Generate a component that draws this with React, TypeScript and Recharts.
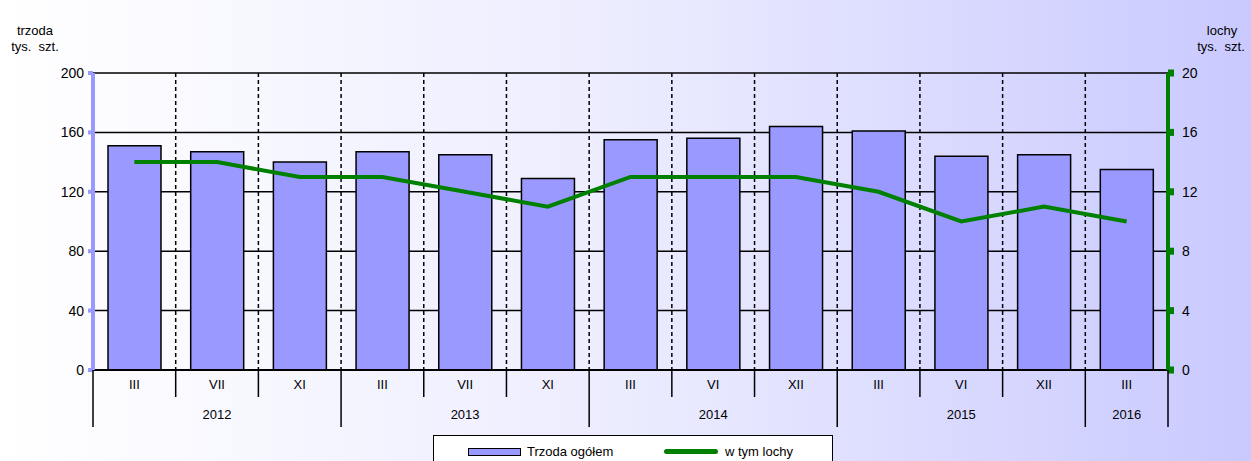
import React from "react";
import {
  ComposedChart,
  Bar,
  Line,
  XAxis,
  YAxis,
  CartesianGrid,
} from "recharts";

const months = ["III", "VII", "XI", "III", "VII", "XI", "III", "VI", "XII", "III", "VI", "XII", "III"];
const years = ["2012", "2012", "2012", "2013", "2013", "2013", "2014", "2014", "2014", "2015", "2015", "2015", "2016"];
const trzoda = [151, 147, 140, 147, 145, 129, 155, 156, 164, 161, 144, 145, 135];
const lochy = [14, 14, 13, 13, 12, 11, 13, 13, 13, 12, 10, 11, 10];
const leftTicks = [0, 40, 80, 120, 160, 200];
const rightTicks = [0, 4, 8, 12, 16, 20];

const data = months.map((m, i) => ({
  key: `${m}-${i}`,
  month: m,
  year: years[i],
  trzoda: trzoda[i],
  lochy: lochy[i],
}));

const W = 1251;
const H = 461;
const LEFT = 93;
const RIGHT = 1168;
const TOP = 73;
const BOTTOM = 370;
const BAND = (RIGHT - LEFT) / months.length;
const FONT = "'Liberation Sans', Arial, sans-serif";

// month label + separator lines + year label under each category
const CategoryTick = (props: any) => {
  const { x, payload } = props;
  const i = payload.index;
  const left = x - BAND / 2;
  const newYear = i === 0 || years[i] !== years[i - 1];
  const last = i === months.length - 1;
  const group = years.map((y, k) => (y === years[i] ? k : -1)).filter((k) => k >= 0);
  const mid = group[Math.floor(group.length / 2)];
  const groupCenter = LEFT + ((group[0] + group[group.length - 1] + 1) / 2) * BAND;
  return (
    <g>
      <line x1={left} x2={left} y1={BOTTOM} y2={newYear ? 427 : 397} stroke="#000" strokeWidth={1.5} />
      {last && <line x1={left + BAND} x2={left + BAND} y1={BOTTOM} y2={427} stroke="#000" strokeWidth={1.5} />}
      <text x={x} y={389} textAnchor="middle" fontSize={13} fontFamily={FONT} fill="#000">
        {payload.value}
      </text>
      {i === mid && (
        <text x={groupCenter} y={419} textAnchor="middle" fontSize={13} fontFamily={FONT} fill="#000">
          {years[i]}
        </text>
      )}
    </g>
  );
};

const App = () => {
  return (
    <div
      style={{
        position: "absolute",
        left: 0,
        top: 0,
        width: W,
        height: H,
        overflow: "hidden",
        background: "linear-gradient(to right, #ffffff 0%, #ececff 50%, #c9c9ff 100%)",
        fontFamily: FONT,
      }}
    >
      <div style={{ position: "absolute", left: 5, top: 23, width: 60, textAlign: "center", fontSize: 13, lineHeight: "16px" }}>
        trzoda
        <br />
        tys.&nbsp; szt.
      </div>
      <div style={{ position: "absolute", left: 1191, top: 23, width: 60, textAlign: "center", fontSize: 13, lineHeight: "16px" }}>
        <div style={{ paddingLeft: 2 }}>lochy</div>
        tys.&nbsp; szt.
      </div>

      <ComposedChart
        width={W}
        height={H}
        data={data}
        margin={{ top: TOP, right: 0, bottom: 0, left: 0 }}
        barCategoryGap={15}
      >
        <CartesianGrid
          yAxisId="left"
          vertical={false}
          stroke="#000"
          strokeWidth={1.5}
          strokeOpacity={1}
        />
        <CartesianGrid
          yAxisId="left"
          horizontal={false}
          stroke="#000"
          strokeWidth={1.5}
          strokeDasharray="4 3"
          verticalCoordinatesGenerator={({ offset }: any) =>
            months.slice(1).map((_, i) => offset.left + ((i + 1) * offset.width) / months.length)
          }
        />
        <XAxis
          dataKey="month"
          height={H - BOTTOM}
          interval={0}
          tickLine={false}
          axisLine={{ stroke: "#000", strokeWidth: 2 }}
          tick={<CategoryTick />}
        />
        <YAxis
          yAxisId="left"
          width={LEFT}
          domain={[0, 200]}
          ticks={leftTicks}
          axisLine={{ stroke: "#9999ff", strokeWidth: 4 }}
          tickLine={{ stroke: "#9999ff", strokeWidth: 4 }}
          tickSize={5}
          tickMargin={4}
          tick={{ fill: "#000", fontSize: 14, fontFamily: FONT }}
        />
        <YAxis
          yAxisId="right"
          orientation="right"
          width={W - RIGHT}
          domain={[0, 20]}
          ticks={rightTicks}
          axisLine={{ stroke: "#008000", strokeWidth: 4 }}
          tickLine={{ stroke: "#008000", strokeWidth: 7 }}
          tickSize={6}
          tickMargin={8}
          tick={{ fill: "#000", fontSize: 14, fontFamily: FONT, textAnchor: "start" }}
        />
        <Bar
          yAxisId="left"
          dataKey="trzoda"
          fill="#9999ff"
          stroke="#000"
          strokeWidth={1.5}
          isAnimationActive={false}
        />
        <Line
          yAxisId="right"
          dataKey="lochy"
          type="linear"
          stroke="#008000"
          strokeWidth={4}
          dot={false}
          activeDot={false}
          isAnimationActive={false}
        />
      </ComposedChart>

      <div
        style={{
          position: "absolute",
          left: 433,
          top: 435,
          width: 398,
          height: 40,
          border: "1.5px solid #000",
          background: "#ffffff",
          fontSize: 13,
        }}
      >
        <div style={{ position: "absolute", left: 34, top: 12, width: 51, height: 6, background: "#9999ff", border: "1.5px solid #000" }} />
        <div style={{ position: "absolute", left: 93, top: 8 }}>Trzoda ogółem</div>
        <div style={{ position: "absolute", left: 230, top: 13, width: 54, height: 5, background: "#008000", borderRadius: 3 }} />
        <div style={{ position: "absolute", left: 291, top: 8 }}>w tym lochy</div>
      </div>
    </div>
  );
};

export default App;
